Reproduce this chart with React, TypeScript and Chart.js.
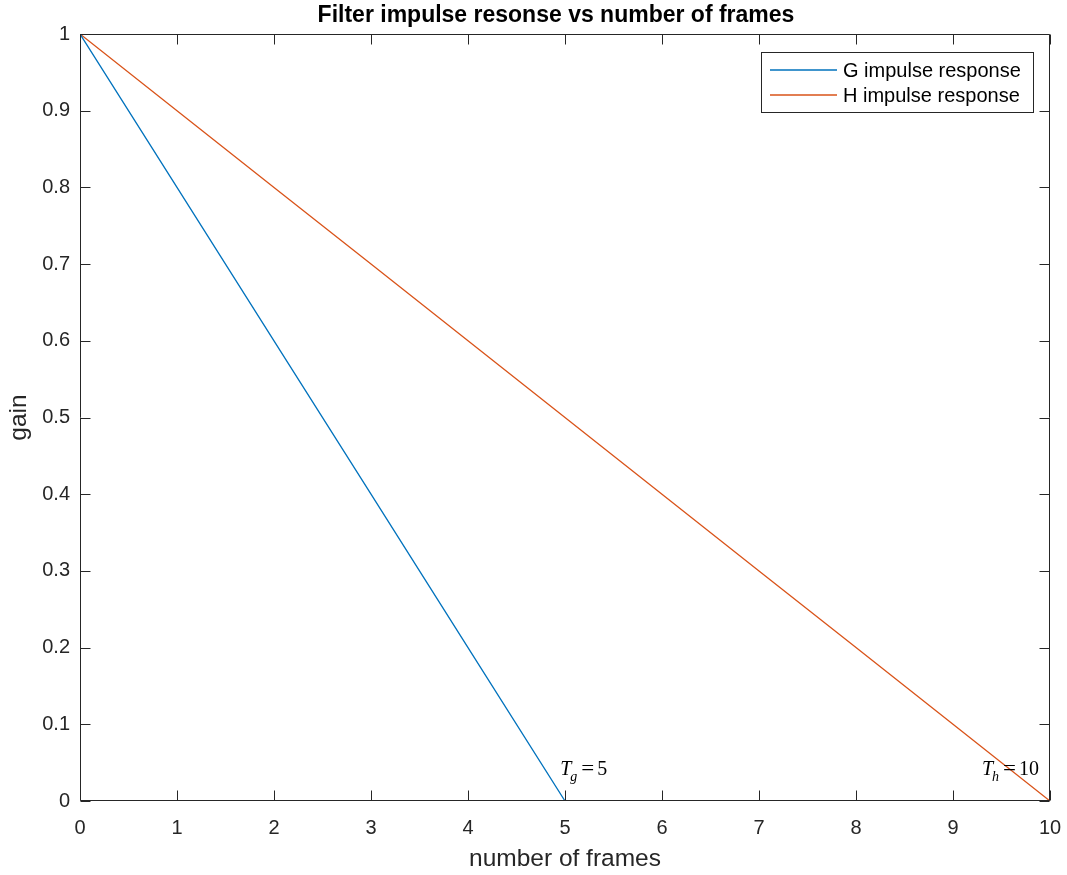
import React, { useEffect, useRef } from "react";
import { Chart, registerables } from "chart.js";

Chart.register(...registerables);

// Impulse responses of the two filters, gain per frame
const gFrames = [0, 1, 2, 3, 4, 5];
const gGain = [1, 0.8, 0.6, 0.4, 0.2, 0];
const hFrames = [0, 1, 2, 3, 4, 5, 6, 7, 8, 9, 10];
const hGain = [1, 0.9, 0.8, 0.7, 0.6, 0.5, 0.4, 0.3, 0.2, 0.1, 0];

const seriesLabels = ["G impulse response", "H impulse response"];
const seriesColors = ["#0072BD", "#D95319"];

const xTicks = [0, 1, 2, 3, 4, 5, 6, 7, 8, 9, 10];
const yTicks = [0, 0.1, 0.2, 0.3, 0.4, 0.5, 0.6, 0.7, 0.8, 0.9, 1];

// Time-constant labels: symbol, subscript, value, anchor (frames, gain)
const noteSymbols = ["T", "T"];
const noteSubs = ["g", "h"];
const noteValues = ["5", "10"];
const noteX = [4.95, 9.3];
const noteY = [0.034, 0.034];

const TITLE = "Filter impulse resonse vs number of frames";
const AXIS = "#262626";
const SANS = "'Liberation Sans', Arial, Helvetica, sans-serif";
const SERIF = "'Liberation Serif', 'Times New Roman', serif";

const framePlugin = {
  id: "framePlugin",
  afterDatasetsDraw(chart: any) {
    const { ctx, chartArea } = chart;
    const { left, right, top, bottom } = chartArea;
    const xs = chart.scales.x;
    const ys = chart.scales.y;
    const tick = 10;

    ctx.save();
    ctx.strokeStyle = AXIS;
    ctx.lineWidth = 1;
    const L = Math.round(left) + 0.5;
    const R = Math.round(right) - 0.5;
    const T = Math.round(top) + 0.5;
    const B = Math.round(bottom) - 0.5;
    ctx.beginPath();
    ctx.rect(L, T, R - L, B - T);
    // inward ticks on all four sides
    xTicks.forEach((v) => {
      const px = Math.round(xs.getPixelForValue(v)) + 0.5;
      ctx.moveTo(px, B);
      ctx.lineTo(px, B - tick);
      ctx.moveTo(px, T);
      ctx.lineTo(px, T + tick);
    });
    yTicks.forEach((v) => {
      const py = Math.round(ys.getPixelForValue(v)) + 0.5;
      ctx.moveTo(L, py);
      ctx.lineTo(L + tick, py);
      ctx.moveTo(R, py);
      ctx.lineTo(R - tick, py);
    });
    ctx.stroke();

    // title
    ctx.fillStyle = "#000";
    ctx.font = `bold 23px ${SANS}`;
    ctx.textAlign = "center";
    ctx.textBaseline = "middle";
    ctx.fillText(TITLE, (left + right) / 2 - 9, 16);

    // annotations
    ctx.textAlign = "left";
    ctx.textBaseline = "alphabetic";
    ctx.fillStyle = "#000";
    noteSymbols.forEach((sym, i) => {
      const x0 = xs.getPixelForValue(noteX[i]);
      const y0 = ys.getPixelForValue(noteY[i]);
      ctx.font = `italic 20px ${SERIF}`;
      ctx.fillText(sym, x0, y0);
      ctx.font = `italic 14px ${SERIF}`;
      ctx.fillText(noteSubs[i], x0 + 10, y0 + 6);
      ctx.font = `20px ${SERIF}`;
      ctx.save();
      ctx.translate(x0 + 21, y0);
      ctx.scale(1.15, 1);
      ctx.fillText("=", 0, 0);
      ctx.restore();
      ctx.fillText(noteValues[i], x0 + 37, y0);
    });

    // legend
    const lx = 761.5;
    const ly = 52.5;
    const lw = 272;
    const lh = 60;
    ctx.fillStyle = "#fff";
    ctx.fillRect(lx, ly, lw, lh);
    ctx.strokeStyle = AXIS;
    ctx.lineWidth = 1;
    ctx.strokeRect(lx, ly, lw, lh);
    ctx.font = `20px ${SANS}`;
    ctx.textBaseline = "middle";
    chart.data.datasets.forEach((ds: any, i: number) => {
      const cy = 70 + i * 25;
      ctx.strokeStyle = ds.borderColor;
      ctx.lineWidth = 1.3;
      ctx.beginPath();
      ctx.moveTo(770, cy);
      ctx.lineTo(837, cy);
      ctx.stroke();
      ctx.fillStyle = "#000";
      ctx.fillText(ds.label, 843, cy + 1);
    });
    ctx.restore();
  },
};

export default function App() {
  const ref = useRef<HTMLCanvasElement | null>(null);

  useEffect(() => {
    if (!ref.current) return;
    const chart = new Chart(ref.current, {
      type: "line",
      data: {
        datasets: [
          {
            label: seriesLabels[0],
            data: gFrames.map((f, i) => ({ x: f, y: gGain[i] })),
            borderColor: seriesColors[0],
            borderWidth: 1.3,
            pointRadius: 0,
            tension: 0,
            fill: false,
          },
          {
            label: seriesLabels[1],
            data: hFrames.map((f, i) => ({ x: f, y: hGain[i] })),
            borderColor: seriesColors[1],
            borderWidth: 1.3,
            pointRadius: 0,
            tension: 0,
            fill: false,
          },
        ],
      },
      options: {
        responsive: false,
        animation: false,
        layout: { padding: { left: 0, top: 34, right: 17, bottom: 0 } },
        plugins: {
          legend: { display: false },
          title: { display: false },
          tooltip: { enabled: false },
        },
        scales: {
          x: {
            type: "linear",
            min: 0,
            max: 10,
            afterFit: (s: any) => {
              s.height = 74;
              s.paddingLeft = 0;
              s.paddingRight = 0;
            },
            afterBuildTicks: (s: any) => {
              s.ticks = xTicks.map((v) => ({ value: v }));
            },
            grid: { display: false, drawTicks: false },
            border: { display: false },
            ticks: {
              font: { family: SANS, size: 20 },
              color: AXIS,
              padding: 15,
              maxRotation: 0,
              callback: (v: any) => String(v),
            },
            title: {
              display: true,
              text: "number of frames",
              font: { family: SANS, size: 24.5 },
              color: AXIS,
              padding: { top: 0, bottom: 1 },
            },
          },
          y: {
            type: "linear",
            min: 0,
            max: 1,
            afterFit: (s: any) => {
              s.width = 80;
              s.paddingTop = 0;
              s.paddingBottom = 0;
            },
            afterBuildTicks: (s: any) => {
              s.ticks = yTicks.map((v) => ({ value: v }));
            },
            grid: { display: false, drawTicks: false },
            border: { display: false },
            ticks: {
              font: { family: SANS, size: 20 },
              color: AXIS,
              padding: 10,
              callback: (v: any) => String(Number(Number(v).toFixed(1))),
            },
            title: {
              display: true,
              text: "gain",
              font: { family: SANS, size: 24.5 },
              color: AXIS,
              padding: { top: 5, bottom: 0 },
            },
          },
        },
      },
      plugins: [framePlugin],
    });
    return () => chart.destroy();
  }, []);

  return (
    <canvas
      ref={ref}
      width={1067}
      height={875}
      style={{ position: "absolute", left: 0, top: 0, display: "block", background: "#fff" }}
    />
  );
}
